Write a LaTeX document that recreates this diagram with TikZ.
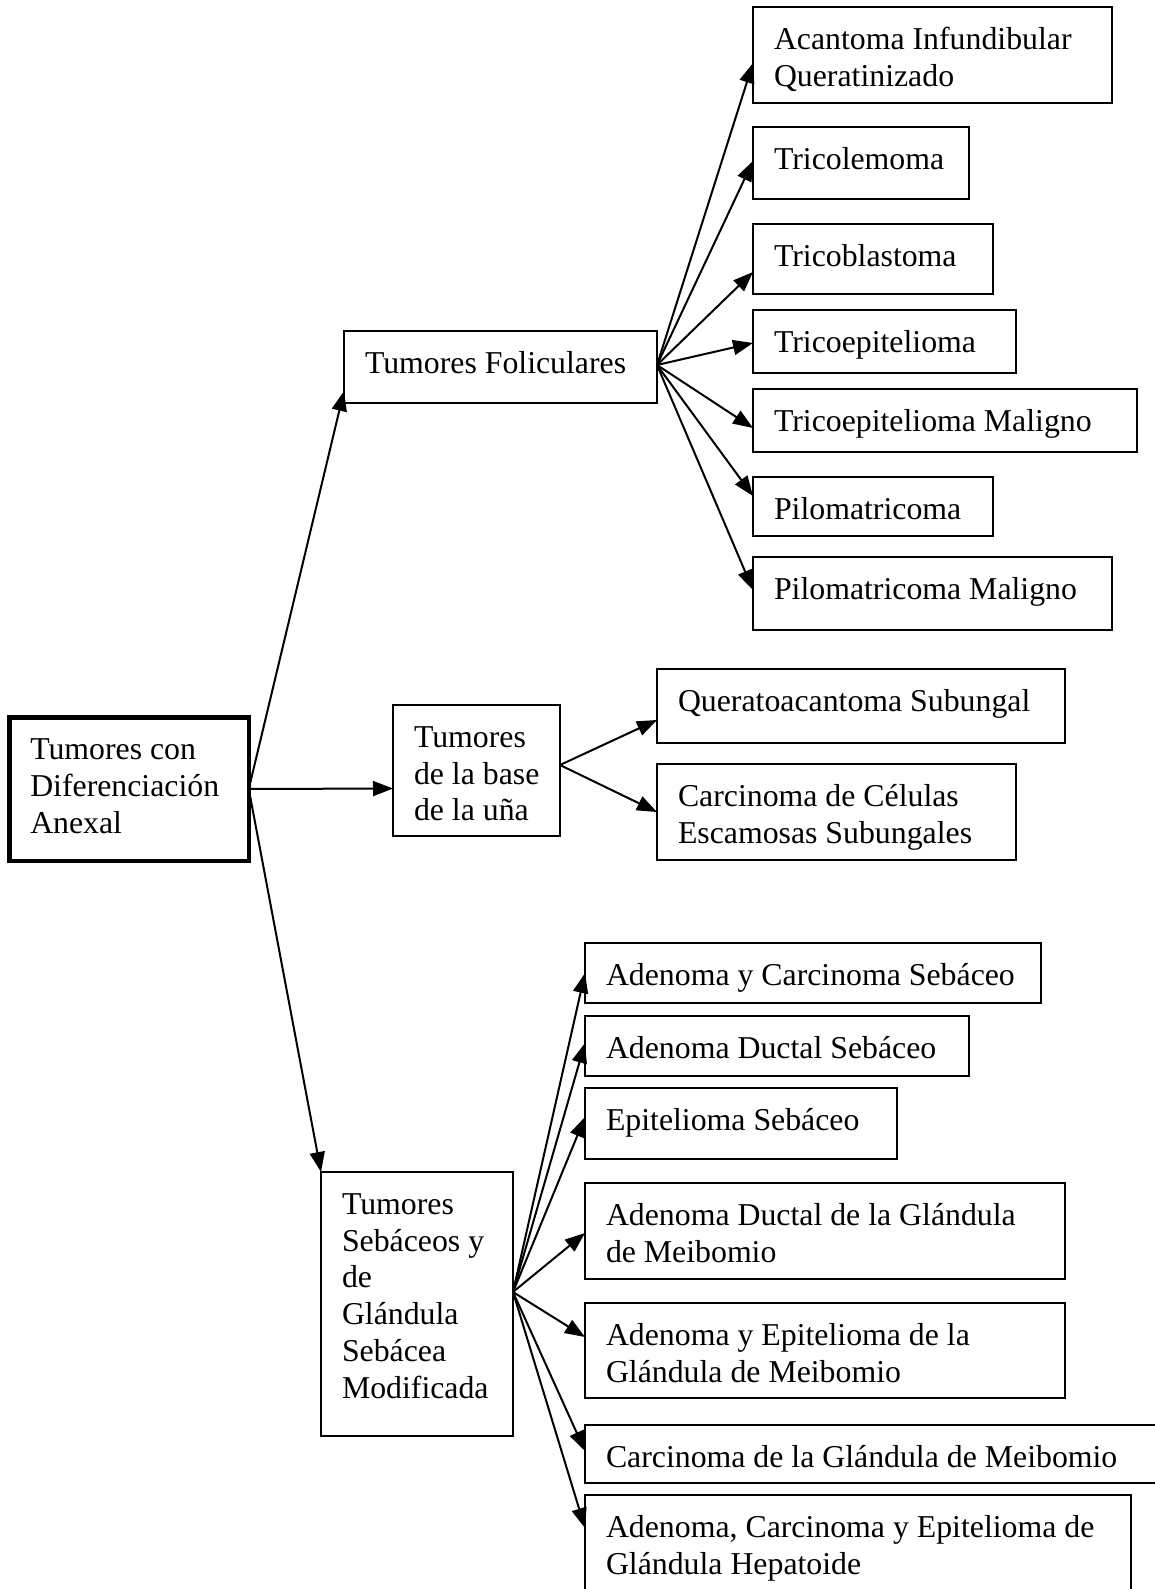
\documentclass[tikz,border=0pt]{standalone}
\usepackage{fontspec}
\setmainfont{Liberation Serif}
\usetikzlibrary{arrows.meta}
\tikzset{
  boxst/.style={draw, rectangle, line width=2pt, inner sep=0pt, outer sep=0pt},
  rootst/.style={boxst, line width=4.5pt},
  txt/.style={anchor=north west, inner sep=0pt, outer sep=0pt, align=left,
              font=\fontsize{31.8}{36.7}\selectfont},
  arr/.style={line width=2pt, -{Triangle[length=20pt,width=15pt]}},
}
% \tumbox[style]{name}{x1}{y1}{x2}{y2}{text}: frame with its text set at the top left
\newcommand\tumbox[7][boxst]{%
  \node[#1, anchor=north west, minimum width={#5-#3}, minimum height={#6-#4}] (#2) at (#3,#4) {};
  \node[txt] (#2-t) at ([xshift=21pt,yshift=-16.8pt]#2.north west) {\strut #7};
}
\begin{document}
\begin{tikzpicture}[x=1pt, y=-1pt]
  \useasboundingbox (0,0) rectangle (1155,1589);
  \fill[white] (0,0) rectangle (1155,1589);
  \clip (0,0) rectangle (1155,1589);

  % main branches
  \tumbox[rootst]{root}{9.25}{717.25}{248.75}{860.75}{Tumores con\\Diferenciación\\Anexal}
  \tumbox{fol}{344}{331}{657}{403}{Tumores Foliculares}
  \tumbox{base}{393}{705}{560}{836}{Tumores\\de la base\\de la uña}
  \tumbox{seb}{321}{1172}{513}{1436}{Tumores\\Sebáceos y\\de\\Glándula\\Sebácea\\Modificada}

  % follicular tumours
  \tumbox{a1}{753}{7}{1112}{103}{Acantoma Infundibular\\Queratinizado}
  \tumbox{a2}{753}{127}{969}{199}{Tricolemoma}
  \tumbox{a3}{753}{224}{993}{294}{Tricoblastoma}
  \tumbox{a4}{753}{310}{1016}{373}{Tricoepitelioma}
  \tumbox{a5}{753}{389}{1137}{452}{Tricoepitelioma Maligno}
  \tumbox{a6}{753}{477}{993}{536}{Pilomatricoma}
  \tumbox{a7}{753}{557}{1112}{630}{Pilomatricoma Maligno}

  % nail bed tumours
  \tumbox{b1}{657}{669}{1065}{743}{Queratoacantoma Subungal}
  \tumbox{b2}{657}{764}{1016}{860}{Carcinoma de Células\\Escamosas Subungales}

  % sebaceous tumours
  \tumbox{c1}{585}{943}{1041}{1003}{Adenoma y Carcinoma Sebáceo}
  \tumbox{c2}{585}{1016}{969}{1076}{Adenoma Ductal Sebáceo}
  \tumbox{c3}{585}{1088}{897}{1159}{Epitelioma Sebáceo}
  \tumbox{c4}{585}{1183}{1065}{1279}{Adenoma Ductal de la Glándula\\de Meibomio}
  \tumbox{c5}{585}{1303}{1065}{1398}{Adenoma y Epitelioma de la\\Glándula de Meibomio}
  \tumbox{c6}{585}{1425}{1170}{1483}{Carcinoma de la Glándula de Meibomio}
  \tumbox{c7}{585}{1495}{1131}{1610}{Adenoma, Carcinoma y Epitelioma de\\Glándula Hepatoide}

  % connectors
  \draw[arr] (root.east) -- ([yshift=-24pt]fol.west);
  \draw[arr] (root.east) -- ([yshift=-18pt]base.west);
  \draw[arr] (root.east) -- (seb.north west);

  \foreach \n/\s in {a1/-8, a2/2, a3/-13, a4/-1.5, a5/-7.5, a6/10.5, a7/3.5}
    \draw[arr] ([yshift=2pt]fol.east) -- ([yshift=\s pt]\n.west);

  \foreach \n/\s in {b1/-14, b2/0}
    \draw[arr] ([yshift=5.5pt]base.east) -- ([yshift=\s pt]\n.west);

  \foreach \n/\s in {c1/0, c2/3, c3/6.5, c4/-2, c5/13.5, c6/3}
    \draw[arr] ([yshift=12pt]seb.east) -- ([yshift=\s pt]\n.west);
  \draw[arr] ([yshift=12pt]seb.east) -- ([yshift=-33pt]c7.north west);
\end{tikzpicture}
\end{document}
